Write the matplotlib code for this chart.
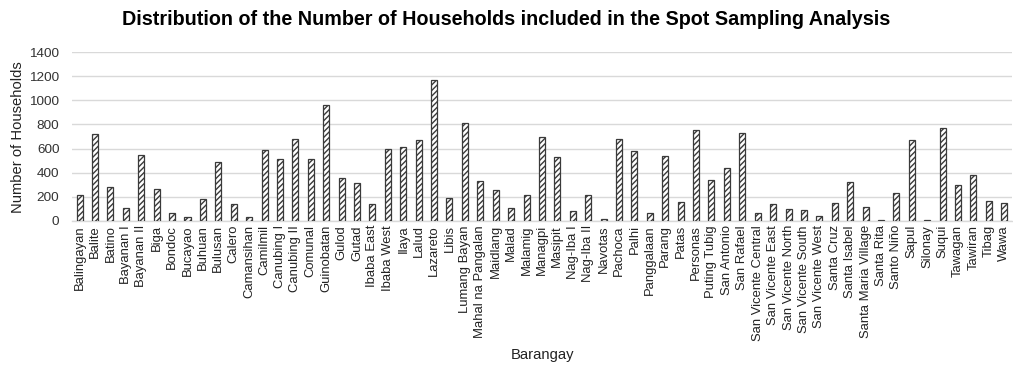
import matplotlib
matplotlib.use("Agg")
import matplotlib.pyplot as plt
import numpy as np

barangays = [
    "Balingayan", "Balite", "Batino", "Bayanan I", "Bayanan II", "Biga", "Bondoc",
    "Bucayao", "Buhuan", "Bulusan", "Calero", "Camansihan", "Camilmil", "Canubing I",
    "Canubing II", "Comunal", "Guinobatan", "Gulod", "Gutad", "Ibaba East",
    "Ibaba West", "Ilaya", "Lalud", "Lazareto", "Libis", "Lumang Bayan",
    "Mahal na Pangalan", "Maidlang", "Malad", "Malamig", "Managpi", "Masipit",
    "Nag-Iba I", "Nag-Iba II", "Navotas", "Pachoca", "Palhi", "Panggalaan", "Parang",
    "Patas", "Personas", "Puting Tubig", "San Antonio", "San Rafael",
    "San Vicente Central", "San Vicente East", "San Vicente North",
    "San Vicente South", "San Vicente West", "Santa Cruz", "Santa Isabel",
    "Santa Maria Village", "Santa Rita", "Santo Niño", "Sapul", "Silonay", "Suqui",
    "Tawagan", "Tawiran", "Tibag", "Wawa",
]

households = [
    218, 719, 278, 107, 545, 267, 66,
    36, 185, 490, 138, 30, 587, 510,
    683, 512, 964, 353, 314, 143,
    598, 609, 675, 1165, 190, 810,
    333, 256, 105, 212, 700, 529,
    83, 218, 14, 683, 581, 63, 537,
    154, 755, 339, 438, 733,
    63, 138, 99,
    94, 44, 146, 322,
    118, 11, 231, 672, 6, 774,
    298, 380, 165, 149,
]

y_ticks = [0, 200, 400, 600, 800, 1000, 1200, 1400]

plt.rcParams["font.family"] = ["Liberation Sans", "DejaVu Sans"]
plt.rcParams["hatch.linewidth"] = 1.0

fig = plt.figure(figsize=(10.13, 3.67), dpi=100)
ax = fig.add_axes([0.071, 0.398, 0.928, 0.46])

x = np.arange(len(barangays))
ax.bar(x, households, width=0.39, color="white", edgecolor="#3a3a3a",
       linewidth=0.9, hatch="//////", zorder=3)

ax.set_xlim(-0.5, len(barangays) - 0.5)
ax.set_ylim(0, 1400)
ax.set_yticks(y_ticks)
ax.set_yticklabels([str(v) for v in y_ticks], fontsize=9.7, color="#333333")
ax.set_xticks(x)
ax.set_xticklabels(barangays, rotation=90, fontsize=9.4, color="#222222")
ax.tick_params(axis="x", length=0, pad=3)
ax.tick_params(axis="y", length=0, pad=9)

ax.grid(axis="y", color="#d9d9d9", linewidth=1.0, zorder=0)
for side in ("top", "right", "left"):
    ax.spines[side].set_visible(False)
ax.spines["bottom"].set_color("#d9d9d9")
ax.spines["bottom"].set_linewidth(1.0)

fig.text(18 / 1013, 1 - 137 / 367, "Number of Households", fontsize=10.6,
         color="#222222", rotation=90, ha="center", va="center")
fig.text(542 / 1013, 1 - 355 / 367, "Barangay", fontsize=10.6,
         color="#222222", ha="center", va="center")

fig.suptitle("Distribution of the Number of Households included in the Spot Sampling Analysis",
             fontsize=14.2, fontweight="bold", x=0.5, y=0.972)

fig.savefig("out.png", dpi=100)
